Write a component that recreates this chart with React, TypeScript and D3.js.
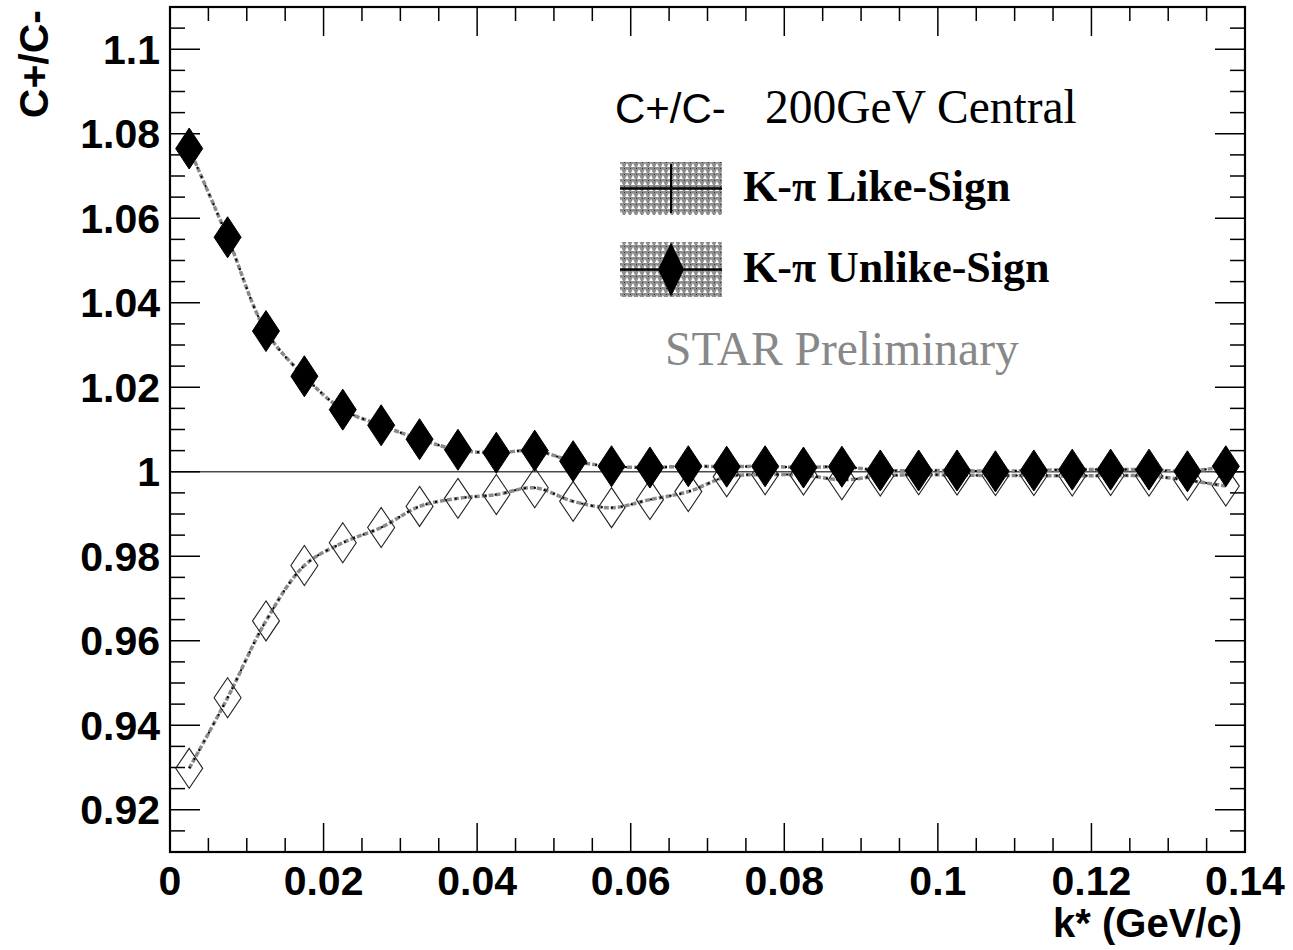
import React from "react";
import * as d3 from "d3";

// bin centres of k* (GeV/c)
const kStar = [
  0.0025, 0.0075, 0.0125, 0.0175, 0.0225, 0.0275, 0.0325, 0.0375, 0.0425, 0.0475,
  0.0525, 0.0575, 0.0625, 0.0675, 0.0725, 0.0775, 0.0825, 0.0875, 0.0925, 0.0975,
  0.1025, 0.1075, 0.1125, 0.1175, 0.1225, 0.1275, 0.1325, 0.1375,
];

// K-pi Unlike-Sign C+/C-
const unlikeSign = [
  1.0765, 1.0555, 1.0333, 1.0226, 1.0147, 1.011, 1.0077, 1.0052, 1.0045, 1.005,
  1.0025, 1.0013, 1.001, 1.0013, 1.0012, 1.0013, 1.001, 1.0012, 1.0003, 1.0003,
  1.0003, 1.0001, 1.0003, 1.0005, 1.0005, 1.0005, 1.0001, 1.0013,
];

// K-pi Like-Sign C+/C-
const likeSign = [
  0.9298, 0.9465, 0.9647, 0.9778, 0.9832, 0.9868, 0.9918, 0.9937, 0.9946, 0.9962,
  0.993, 0.9915, 0.9934, 0.9953, 0.9988, 0.9993, 0.9992, 0.9981, 0.999, 0.9993,
  0.9992, 0.9991, 0.9991, 0.999, 0.9991, 0.999, 0.998, 0.9966,
];

const xTicks = [0, 0.02, 0.04, 0.06, 0.08, 0.1, 0.12, 0.14];
const xTickLabels = ["0", "0.02", "0.04", "0.06", "0.08", "0.1", "0.12", "0.14"];
const yTicks = [0.92, 0.94, 0.96, 0.98, 1.0, 1.02, 1.04, 1.06, 1.08, 1.1];
const yTickLabels = ["0.92", "0.94", "0.96", "0.98", "1", "1.02", "1.04", "1.06", "1.08", "1.1"];

const W = 1293;
const H = 950;
const L = 170, R = 1245, T = 7, B = 852;

const SANS = "'Liberation Sans', Arial, Helvetica, sans-serif";
const SERIF = "'Liberation Serif', 'Times New Roman', Times, serif";

export default function App() {
  const x = d3.scaleLinear().domain([0, 0.14]).range([L, R]);
  const y = d3.scaleLinear().domain([0.91, 1.11]).range([B, T]);

  const xMinor = d3.range(0, 0.14 + 1e-9, 0.005).filter((v) => Math.abs(v / 0.02 - Math.round(v / 0.02)) > 1e-6);
  const yMinor = d3.range(0.91, 1.11 + 1e-9, 0.005).filter((v) => Math.abs(v / 0.02 - Math.round(v / 0.02)) > 1e-6);

  const line = d3
    .line<number>()
    .x((_, i) => x(kStar[i]))
    .y((d) => y(d))
    .curve(d3.curveCatmullRom.alpha(0.5));

  const diamond = (cx: number, cy: number, hw: number, hh: number) =>
    `M${cx},${cy - hh}L${cx + hw},${cy}L${cx},${cy + hh}L${cx - hw},${cy}Z`;

  const majorLen = 29;
  const minorLen = 14;

  return (
    <svg width={W} height={H} style={{ position: "absolute", left: 0, top: 0, background: "#fff" }}>
      <defs>
        <pattern id="hatch" width="6" height="6" patternUnits="userSpaceOnUse">
          <rect width="6" height="6" fill="#8e8e8e" />
          <path d="M1,5 L3,1 L5,5 Z" fill="#fff" />
          <rect x="0" y="0" width="1" height="1" fill="#333" />
        </pattern>
        <clipPath id="frameClip">
          <rect x={L} y={T} width={R - L} height={B - T} />
        </clipPath>
      </defs>
      <rect width={W} height={H} fill="#fff" />

      {/* reference line at 1 */}
      <line x1={L} x2={R} y1={y(1)} y2={y(1)} stroke="#4a4a4a" strokeWidth={1.5} />

      <g clipPath="url(#frameClip)">
        {/* like-sign curve */}
        <path d={line(likeSign) || ""} fill="none" stroke="#8a8a8a" strokeWidth={3.5} strokeDasharray="5,2" />
        <path d={line(likeSign) || ""} fill="none" stroke="#000" strokeWidth={2} strokeDasharray="2,8" />
        {/* like-sign markers (open diamonds) */}
        {likeSign.map((v, i) => (
          <path key={"l" + i} d={diamond(x(kStar[i]), y(v), 13.5, 20)} fill="none" stroke="#222" strokeWidth={1.1} />
        ))}
        {/* unlike-sign curve */}
        <path d={line(unlikeSign) || ""} fill="none" stroke="#8a8a8a" strokeWidth={3.5} strokeDasharray="5,2" />
        <path d={line(unlikeSign) || ""} fill="none" stroke="#000" strokeWidth={2} strokeDasharray="2,8" />
        {/* unlike-sign markers (filled diamonds) */}
        {unlikeSign.map((v, i) => (
          <path key={"u" + i} d={diamond(x(kStar[i]), y(v), 13.5, 20.5)} fill="#000" stroke="#000" strokeWidth={1} />
        ))}
      </g>

      {/* frame */}
      <rect x={L} y={T} width={R - L} height={B - T} fill="none" stroke="#000" strokeWidth={2.2} />

      {/* x ticks bottom & top */}
      {xTicks.map((v) => (
        <g key={"xt" + v}>
          <line x1={x(v)} x2={x(v)} y1={B} y2={B - majorLen} stroke="#000" strokeWidth={1.5} />
          <line x1={x(v)} x2={x(v)} y1={T} y2={T + majorLen} stroke="#000" strokeWidth={1.5} />
        </g>
      ))}
      {xMinor.map((v) => (
        <g key={"xm" + v}>
          <line x1={x(v)} x2={x(v)} y1={B} y2={B - minorLen} stroke="#000" strokeWidth={1.5} />
          <line x1={x(v)} x2={x(v)} y1={T} y2={T + minorLen} stroke="#000" strokeWidth={1.5} />
        </g>
      ))}
      {/* y ticks left & right */}
      {yTicks.map((v) => (
        <g key={"yt" + v}>
          <line x1={L} x2={L + 30} y1={y(v)} y2={y(v)} stroke="#000" strokeWidth={1.5} />
          <line x1={R} x2={R - 30} y1={y(v)} y2={y(v)} stroke="#000" strokeWidth={1.5} />
        </g>
      ))}
      {yMinor.map((v) => (
        <g key={"ym" + v}>
          <line x1={L} x2={L + 15} y1={y(v)} y2={y(v)} stroke="#000" strokeWidth={1.5} />
          <line x1={R} x2={R - 15} y1={y(v)} y2={y(v)} stroke="#000" strokeWidth={1.5} />
        </g>
      ))}

      {/* tick labels */}
      {xTicks.map((v, i) => (
        <text key={"xl" + v} x={x(v)} y={895} textAnchor="middle" fontFamily={SANS} fontWeight="bold" fontSize={41} fill="#000">
          {xTickLabels[i]}
        </text>
      ))}
      {yTicks.map((v, i) => (
        <text key={"yl" + v} x={160} y={y(v) + 14.5} textAnchor="end" fontFamily={SANS} fontWeight="bold" fontSize={41} fill="#000">
          {yTickLabels[i]}
        </text>
      ))}

      {/* axis titles */}
      <text x={1242} y={937} textAnchor="end" fontFamily={SANS} fontWeight="bold" fontSize={40} fill="#000">
        k* (GeV/c)
      </text>
      <text transform="translate(48,10) rotate(-90)" textAnchor="end" fontFamily={SANS} fontWeight="bold" fontSize={41} fill="#000">
        C+/C-
      </text>

      {/* legend */}
      <text x={615} y={123} fontFamily={SANS} fontSize={42} fill="#000">
        C+/C-
      </text>
      <text x={765} y={123} fontFamily={SERIF} fontSize={47.5} fill="#000">
        200GeV Central
      </text>

      <rect x={620} y={162} width={102} height={53} fill="url(#hatch)" />
      <line x1={620} x2={722} y1={188.5} y2={188.5} stroke="#000" strokeWidth={2.5} />
      <line x1={671} x2={671} y1={164} y2={213} stroke="#000" strokeWidth={2} />
      <text x={743} y={201} fontFamily={SERIF} fontWeight="bold" fontSize={44} fill="#000">
        K-π Like-Sign
      </text>

      <rect x={620} y={242} width={102} height={55} fill="url(#hatch)" />
      <line x1={620} x2={722} y1={269.5} y2={269.5} stroke="#000" strokeWidth={2.5} />
      <path d={diamond(671, 269.5, 13, 27)} fill="#000" />
      <text x={743} y={282} fontFamily={SERIF} fontWeight="bold" fontSize={44} fill="#000">
        K-π Unlike-Sign
      </text>

      <text x={665} y={365} fontFamily={SERIF} fontSize={47.5} fill="#888">
        STAR Preliminary
      </text>
    </svg>
  );
}
